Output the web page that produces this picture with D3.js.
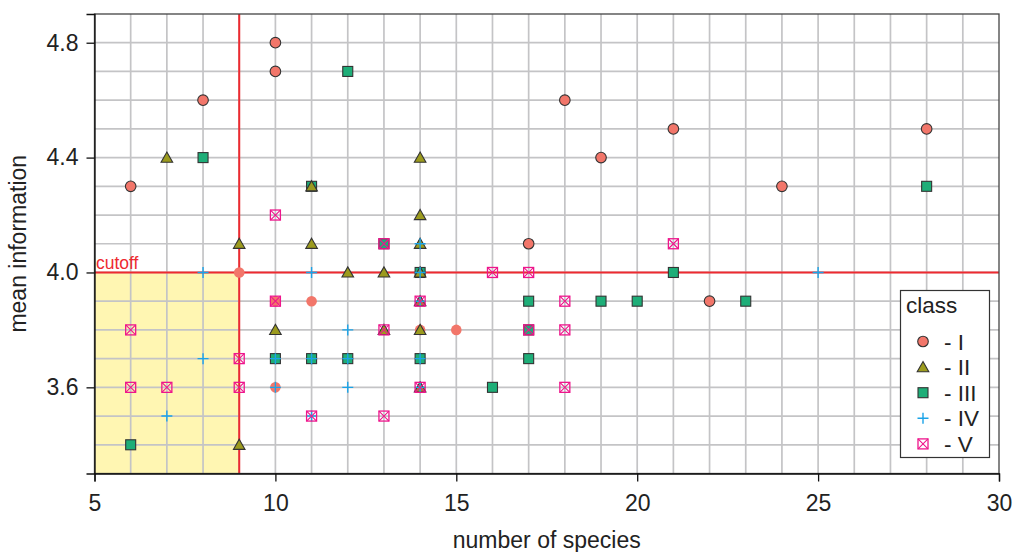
<!DOCTYPE html>
<html><head><meta charset="utf-8">
<script src="https://cdn.jsdelivr.net/npm/d3@7"></script>
<style>body{margin:0;background:#fff;} text{font-family:"Liberation Sans",Arial,sans-serif;}</style>
</head><body><svg id="c" width="1014" height="552"></svg>
<script>
// ---- data ----
const xTicks = [5, 10, 15, 20, 25, 30];
const yTicks = [3.6, 4.0, 4.4, 4.8];
const cutoffX = 9;
const cutoffY = 4.0;
const classI = [[6,4.3],[8,4.6],[10,4.8],[10,4.7],[17,4.1],[18,4.6],[19,4.4],[21,4.5],[22,3.9],[24,4.3],[28,4.5]];
const classIplain = [[9,4.0],[10,3.9],[11,3.9],[10,3.6],[14,3.8],[15,3.8]];
const classII = [[7,4.4],[9,4.1],[9,3.4],[10,3.8],[11,4.3],[11,4.1],[12,4.0],[13,4.0],[13,3.8],[14,4.4],[14,4.2],[14,4.1],[14,4.0],[14,3.9],[14,3.8],[14,3.6]];
const classIII = [[6,3.4],[8,4.4],[10,3.7],[11,4.3],[11,3.7],[12,4.7],[12,3.7],[13,4.1],[14,4.0],[14,3.7],[16,3.6],[17,3.9],[17,3.8],[17,3.7],[19,3.9],[20,3.9],[21,4.0],[23,3.9],[28,4.3]];
const classIV = [[7,3.5],[8,4.0],[8,3.7],[10,3.7],[10,3.6],[11,4.0],[11,3.7],[11,3.5],[12,3.8],[12,3.7],[12,3.6],[14,4.1],[14,4.0],[14,3.9],[14,3.7],[14,3.6],[25,4.0]];
const classV = [[6,3.8],[6,3.6],[7,3.6],[9,3.7],[9,3.6],[10,4.2],[10,3.9],[11,3.5],[13,4.1],[13,3.8],[13,3.5],[14,3.9],[14,3.6],[16,4.0],[17,4.0],[17,3.8],[18,3.9],[18,3.8],[18,3.6],[21,4.1]];
const legendLabels = ["- I", "- II", "- III", "- IV", "- V"];

// ---- layout ----
const svg = d3.select("#c");
const L = 94.5, R = 999, T = 14, B = 473.5;
const x = d3.scaleLinear().domain([5, 30]).range([L, R]);
const y = d3.scaleLinear().domain([3.3, 4.9]).range([B, T]);
const col = {I:"#F2766A", II:"#9C9B1E", III:"#1EAE78", IV:"#1AA3E8", V:"#EE168C", red:"#EE2A30"};

// yellow area
svg.append("rect").attr("x", x(5)).attr("y", y(cutoffY)).attr("width", x(cutoffX)-x(5))
  .attr("height", y(3.3)-y(cutoffY)).attr("fill", "#FFF6B2");

// grid
const g = svg.append("g");
g.selectAll(".gx").data(d3.range(6, 30, 1)).join("line")
  .attr("x1", d => x(d)).attr("x2", d => x(d)).attr("y1", T).attr("y2", B)
  .attr("stroke", "#C4C4C6").attr("stroke-width", 1.7);
g.selectAll(".gy").data(d3.range(34, 49, 1).map(v => v/10)).join("line")
  .attr("x1", L).attr("x2", R).attr("y1", d => y(d)).attr("y2", d => y(d))
  .attr("stroke", "#C4C4C6").attr("stroke-width", 1.7);

// cutoff lines
svg.append("line").attr("x1", x(cutoffX)).attr("x2", x(cutoffX)).attr("y1", T).attr("y2", B)
  .attr("stroke", col.red).attr("stroke-width", 2);
svg.append("line").attr("x1", L).attr("x2", R).attr("y1", y(cutoffY)).attr("y2", y(cutoffY))
  .attr("stroke", col.red).attr("stroke-width", 2);
svg.append("text").attr("x", L + 1.5).attr("y", y(cutoffY) - 3).text("cutoff")
  .attr("fill", col.red).attr("font-size", 17.5);

// frame
svg.append("rect").attr("x", L).attr("y", T).attr("width", R-L).attr("height", B-T)
  .attr("fill", "none").attr("stroke", "#444").attr("stroke-width", 1.3);

// axes
const xAxis = svg.append("g").attr("transform", `translate(0,${B})`)
  .call(d3.axisBottom(x).tickValues(xTicks).tickSize(8).tickPadding(8).tickFormat(d3.format("d")));
const yAxis = svg.append("g").attr("transform", `translate(${L},0)`)
  .call(d3.axisLeft(y).tickValues(yTicks).tickSize(8).tickPadding(8).tickFormat(d3.format(".1f")));
[xAxis, yAxis].forEach(a => {
  a.select(".domain").attr("stroke", "#111").attr("stroke-width", 1.3);
  a.selectAll(".tick line").attr("stroke", "#111").attr("stroke-width", 1.3);
  a.selectAll(".tick text").attr("font-size", 23).attr("fill", "#222")
    .attr("font-family", "Liberation Sans, Arial, sans-serif");
});
xAxis.selectAll(".tick text").attr("dy", "0.92em");

svg.append("text").attr("x", (L+R)/2).attr("y", 548).attr("text-anchor", "middle")
  .attr("font-size", 23).attr("fill", "#222").text("number of species");
svg.append("text").attr("transform", `translate(26,${(T+B)/2}) rotate(-90)`).attr("text-anchor", "middle")
  .attr("font-size", 23).attr("fill", "#222").text("mean information");

// symbol drawers
function drawCircle(sel, cx, cy, stroke) {
  sel.append("circle").attr("cx", cx).attr("cy", cy).attr("r", 5.3)
    .attr("fill", col.I).attr("stroke", stroke ? "#333" : "none").attr("stroke-width", 1.1);
}
function drawTri(sel, cx, cy) {
  const p = `M${cx},${cy-5.6}L${cx+5.8},${cy+4.6}L${cx-5.8},${cy+4.6}Z`;
  sel.append("path").attr("d", p).attr("fill", col.II).attr("stroke", "#333").attr("stroke-width", 1.1);
}
function drawSq(sel, cx, cy) {
  sel.append("rect").attr("x", cx-5).attr("y", cy-5).attr("width", 10).attr("height", 10)
    .attr("fill", col.III).attr("stroke", "#333").attr("stroke-width", 1.1);
}
function drawPlus(sel, cx, cy) {
  sel.append("path").attr("d", `M${cx-5.5},${cy}H${cx+5.5}M${cx},${cy-5.5}V${cy+5.5}`)
    .attr("stroke", col.IV).attr("stroke-width", 1.4).attr("fill", "none");
}
function drawV(sel, cx, cy) {
  sel.append("rect").attr("x", cx-5).attr("y", cy-5).attr("width", 10).attr("height", 10)
    .attr("fill", "none").attr("stroke", col.V).attr("stroke-width", 1.3);
  sel.append("path").attr("d", `M${cx-5},${cy-5}L${cx+5},${cy+5}M${cx+5},${cy-5}L${cx-5},${cy+5}`)
    .attr("stroke", col.V).attr("stroke-width", 1.1).attr("fill", "none");
}

const pts = svg.append("g");
classIplain.forEach(d => drawCircle(pts, x(d[0]), y(d[1]), false));
classI.forEach(d => drawCircle(pts, x(d[0]), y(d[1]), true));
classIII.forEach(d => drawSq(pts, x(d[0]), y(d[1])));
classII.forEach(d => drawTri(pts, x(d[0]), y(d[1])));
classIV.forEach(d => drawPlus(pts, x(d[0]), y(d[1])));
classV.forEach(d => drawV(pts, x(d[0]), y(d[1])));

// legend
const lg = svg.append("g");
lg.append("rect").attr("x", 900.5).attr("y", 290.5).attr("width", 89).attr("height", 167)
  .attr("fill", "#fff").attr("stroke", "#333").attr("stroke-width", 1.2);
lg.append("text").attr("x", 906).attr("y", 313).attr("font-size", 22.5).attr("fill", "#222").text("class");
const drawers = [(s,a,b)=>drawCircle(s,a,b,true), drawTri, drawSq, drawPlus, drawV];
legendLabels.forEach((lab, i) => {
  const cy = 341.5 + i * 25.6;
  drawers[i](lg, 923, cy);
  lg.append("text").attr("x", 944).attr("y", cy + 8).attr("font-size", 22.5).attr("fill", "#222").text(lab);
});
</script></body></html>
